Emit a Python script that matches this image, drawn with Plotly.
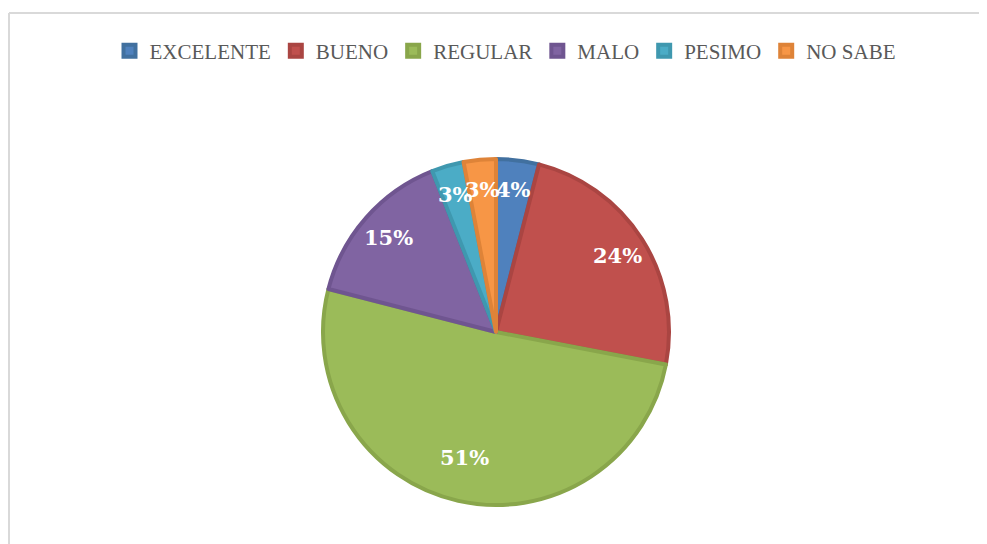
import math
import plotly.graph_objects as go

categories = ["EXCELENTE", "BUENO", "REGULAR", "MALO", "PESIMO", "NO SABE"]
percentages = [4, 24, 51, 15, 3, 3]

COLORS = ["#4F81BD", "#C0504D", "#9BBB59", "#8064A2", "#4BACC6", "#F79646"]
EDGES = ["#41709F", "#AA4542", "#89A64B", "#6F5590", "#3F98AF", "#DE8338"]
FONT = "Liberation Serif, DejaVu Serif, serif"

# la página html añade 8 px de margen al cuerpo
OFF = 8
W, H = 987 - OFF, 544 - OFF
CX, CY, R = 496 - OFF, 332 - OFF, 173  # centro / radio de la torta, en px

fig = go.Figure(go.Pie(
    labels=categories,
    values=percentages,
    sort=False,
    direction="clockwise",
    rotation=0,
    textinfo="none",
    marker={"colors": COLORS, "line": {"color": EDGES, "width": 4}},
    domain={"x": [(CX - R) / W, (CX + R) / W],
            "y": [1 - (CY + R) / H, 1 - (CY - R) / H]},
    hovertemplate="%{label}: %{value}%<extra></extra>",
))

# etiquetas de porcentaje sobre cada sector
total = sum(percentages)
acc = 0
for v in percentages:
    mid = (acc + v / 2) / total * 2 * math.pi
    acc += v
    rr = R * 0.83
    fig.add_annotation(
        x=(CX + rr * math.sin(mid)) / W,
        y=1 - (CY - rr * math.cos(mid)) / H,
        xref="paper", yref="paper",
        text=f"{v}%", showarrow=False,
        font={"family": "DejaVu Serif", "size": 21, "color": "white", "weight": "bold"},
    )

# marco del gráfico (solo arriba e izquierda visibles)
fig.add_shape(type="line", xref="paper", yref="paper",
              x0=1 / W, x1=1, y0=1 - 5 / H, y1=1 - 5 / H,
              line={"color": "#D9D9D9", "width": 2})
fig.add_shape(type="line", xref="paper", yref="paper",
              x0=1 / W, x1=1 / W, y0=0, y1=1 - 5 / H,
              line={"color": "#D9D9D9", "width": 2})

fig.update_layout(
    width=W, height=H,
    margin={"l": 0, "r": 0, "t": 0, "b": 0},
    paper_bgcolor="white",
    plot_bgcolor="white",
    font={"family": FONT, "color": "#595959"},
    legend={"orientation": "h", "x": (505 - OFF) / W, "xanchor": "center",
            "y": 1 - (51 - OFF) / H, "yanchor": "middle",
            "font": {"size": 21, "color": "#595959", "family": FONT}},
    showlegend=True,
)

fig.write_html("out.html")
